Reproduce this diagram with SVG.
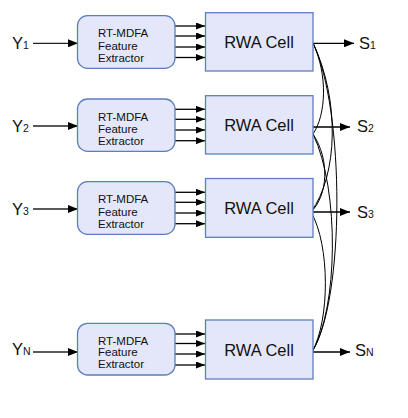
<svg xmlns="http://www.w3.org/2000/svg" width="408" height="418" viewBox="0 0 408 418">
<defs>
<style>
.fe{fill:#e4e6fa;stroke:#5b7fbd;stroke-width:1.3}
.rwa{fill:#e4e6fa;stroke:#5b7fbd;stroke-width:1.3}
.t{font-family:"Liberation Sans",Arial,sans-serif;fill:#111}
.fet{font-size:11.5px}
.rwat{font-size:16.5px;text-anchor:middle}
.lab{font-size:16.5px}
.sub{font-size:10.5px}
.ln{stroke:#000;stroke-width:1.3;fill:none}
.ln2{stroke:#222;stroke-width:1.3;fill:none}
.cv{stroke:#000;stroke-width:1;fill:none}
</style>
<marker id="ah" viewBox="0 0 10 8" refX="10" refY="4" markerWidth="10" markerHeight="8" markerUnits="userSpaceOnUse" orient="auto">
<path d="M0,0 L10,4 L0,8 Z" fill="#000"/>
</marker>
<marker id="ahs" viewBox="0 0 9 7" refX="9" refY="3.5" markerWidth="9" markerHeight="7" markerUnits="userSpaceOnUse" orient="auto">
<path d="M0,0 L9,3.5 L0,7 Z" fill="#000"/>
</marker>
</defs>

<g id="connectors">
<!-- inputs -->
<path class="ln2" d="M33,43.3 H78" marker-end="url(#ah)"/>
<path class="ln2" d="M33,126 H78" marker-end="url(#ah)"/>
<path class="ln2" d="M33,209 H78" marker-end="url(#ah)"/>
<path class="ln2" d="M33,352 H78" marker-end="url(#ah)"/>
<!-- feature arrows -->
<path class="ln" d="M175,26 H205" marker-end="url(#ahs)"/>
<path class="ln" d="M175,36 H205" marker-end="url(#ahs)"/>
<path class="ln" d="M175,47 H205" marker-end="url(#ahs)"/>
<path class="ln" d="M175,57.5 H205" marker-end="url(#ahs)"/>
<path class="ln" d="M175,109.3 H205" marker-end="url(#ahs)"/>
<path class="ln" d="M175,119.3 H205" marker-end="url(#ahs)"/>
<path class="ln" d="M175,130 H205" marker-end="url(#ahs)"/>
<path class="ln" d="M175,140.7 H205" marker-end="url(#ahs)"/>
<path class="ln" d="M175,192.3 H205" marker-end="url(#ahs)"/>
<path class="ln" d="M175,202.3 H205" marker-end="url(#ahs)"/>
<path class="ln" d="M175,213 H205" marker-end="url(#ahs)"/>
<path class="ln" d="M175,223.7 H205" marker-end="url(#ahs)"/>
<path class="ln" d="M175,334 H205" marker-end="url(#ahs)"/>
<path class="ln" d="M175,343.5 H205" marker-end="url(#ahs)"/>
<path class="ln" d="M175,354 H205" marker-end="url(#ahs)"/>
<path class="ln" d="M175,365 H205" marker-end="url(#ahs)"/>
<!-- outputs -->
<path class="ln" d="M313,43.3 H354" marker-end="url(#ah)"/>
<path class="ln" d="M309,127 H350" marker-end="url(#ah)"/>
<path class="ln" d="M310,212 H350" marker-end="url(#ah)"/>
<path class="ln" d="M310,352 H350" marker-end="url(#ah)"/>
<!-- recurrent curves -->
<path class="cv" d="M313,43 C328,75 326,115 313,134"/>
<path class="cv" d="M313,43 C340,100 338,175 311,212"/>
<path class="cv" d="M313,43 C345,110 345,300 312,352"/>
<path class="cv" d="M313,134 C330,160 328,195 311,212"/>
<path class="cv" d="M313,134 C340,190 338,310 312,352"/>
<path class="cv" d="M311,212 C330,245 330,320 312,352"/>
</g>

<g id="labels-in">
<text class="t lab" x="12" y="48.5">Y<tspan class="sub">1</tspan></text>
<text class="t lab" x="12" y="132">Y<tspan class="sub">2</tspan></text>
<text class="t lab" x="12" y="215">Y<tspan class="sub">3</tspan></text>
<text class="t lab" x="12" y="354.5">Y<tspan class="sub">N</tspan></text>
</g>

<g id="fe1"><rect class="fe" x="77.5" y="15.7" width="97.5" height="52.6" rx="10"/>
<text class="t fet" x="98" y="37.3">RT-MDFA</text><text class="t fet" x="98" y="49.5">Feature</text><text class="t fet" x="98" y="61.5">Extractor</text></g>
<g id="fe2"><rect class="fe" x="77.5" y="99" width="97.5" height="52.3" rx="10"/>
<text class="t fet" x="98" y="120.5">RT-MDFA</text><text class="t fet" x="98" y="132.5">Feature</text><text class="t fet" x="98" y="144.5">Extractor</text></g>
<g id="fe3"><rect class="fe" x="77.5" y="181.7" width="97.5" height="52.6" rx="10"/>
<text class="t fet" x="98" y="203.3">RT-MDFA</text><text class="t fet" x="98" y="215.5">Feature</text><text class="t fet" x="98" y="227.5">Extractor</text></g>
<g id="feN"><rect class="fe" x="77.5" y="323.3" width="97.5" height="51.7" rx="10"/>
<text class="t fet" x="98" y="344.5">RT-MDFA</text><text class="t fet" x="98" y="356.3">Feature</text><text class="t fet" x="98" y="368">Extractor</text></g>

<g id="rwa1"><rect class="rwa" x="205.5" y="12.7" width="107.5" height="58.3"/><text class="t rwat" x="259" y="48">RWA Cell</text></g>
<g id="rwa2"><rect class="rwa" x="205.5" y="95.7" width="107.5" height="58.3"/><text class="t rwat" x="259" y="131">RWA Cell</text></g>
<g id="rwa3"><rect class="rwa" x="205.5" y="178.5" width="107.5" height="58.8"/><text class="t rwat" x="259" y="214">RWA Cell</text></g>
<g id="rwaN"><rect class="rwa" x="205.5" y="320" width="107.5" height="59"/><text class="t rwat" x="259" y="355.5">RWA Cell</text></g>

<g id="labels-out">
<text class="t lab" x="359" y="49">S<tspan class="sub">1</tspan></text>
<text class="t lab" x="357" y="132">S<tspan class="sub">2</tspan></text>
<text class="t lab" x="357" y="217.5">S<tspan class="sub">3</tspan></text>
<text class="t lab" x="355" y="355.5">S<tspan class="sub">N</tspan></text>
</g>
</svg>
